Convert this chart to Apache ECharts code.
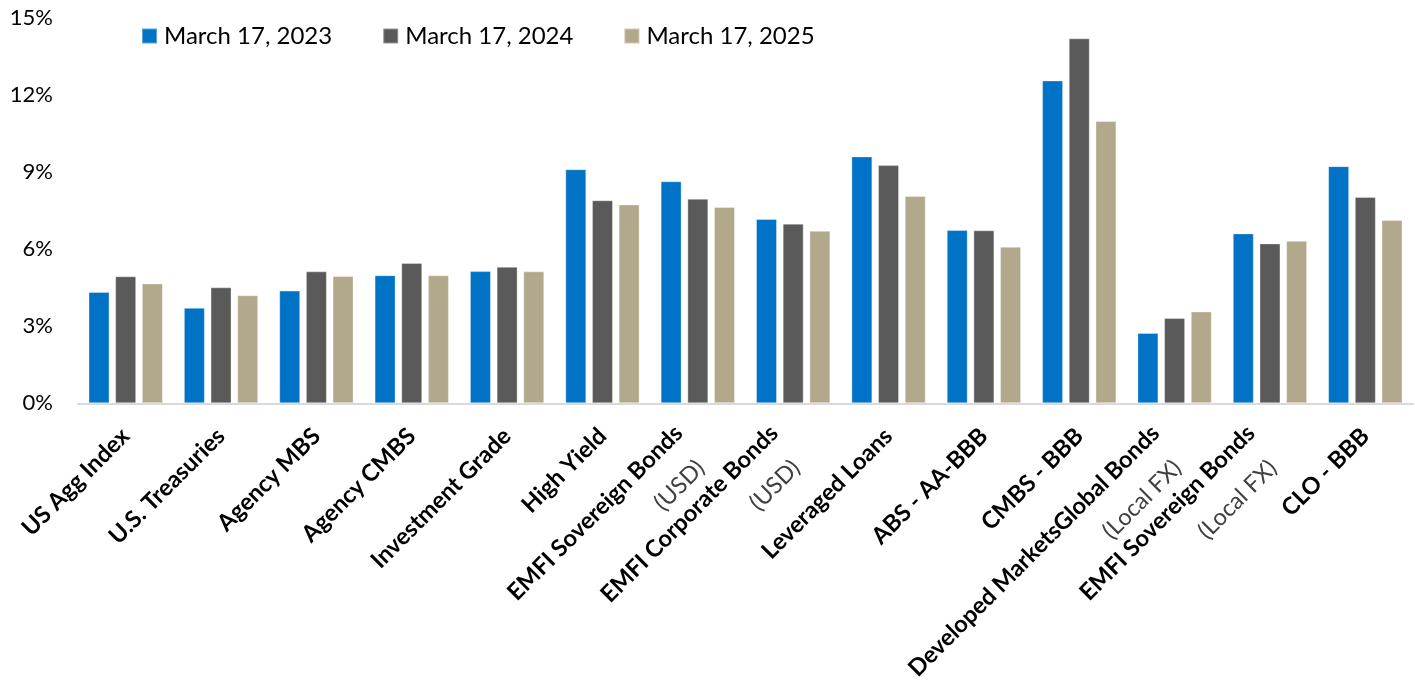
<!DOCTYPE html>
<html>
<head>
<meta charset="utf-8">
<script src="https://cdn.jsdelivr.net/npm/echarts@6/dist/echarts.min.js"></script>
<style>
html,body{margin:0;padding:0;background:#fff;}
#chart{width:1415px;height:689px;}
</style>
</head>
<body>
<div id="chart"></div>
<script>
const categories = [
  'US Agg Index',
  'U.S. Treasuries',
  'Agency MBS',
  'Agency CMBS',
  'Investment Grade',
  'High Yield',
  'EMFI Sovereign Bonds\n(USD)',
  'EMFI Corporate Bonds\n(USD)',
  'Leveraged Loans',
  'ABS - AA-BBB',
  'CMBS - BBB',
  'Developed MarketsGlobal Bonds\n(Local FX)',
  'EMFI Sovereign Bonds\n(Local FX)',
  'CLO - BBB'
];
const seriesNames = ['March 17, 2023', 'March 17, 2024', 'March 17, 2025'];
const values2023 = [4.34, 3.72, 4.39, 4.99, 5.15, 9.12, 8.65, 7.18, 9.62, 6.75, 12.58, 2.74, 6.62, 9.24];
const values2024 = [4.95, 4.52, 5.14, 5.47, 5.32, 7.91, 7.97, 7.00, 9.28, 6.74, 14.22, 3.32, 6.23, 8.04];
const values2025 = [4.67, 4.21, 4.96, 4.99, 5.14, 7.75, 7.65, 6.72, 8.08, 6.10, 11.00, 3.58, 6.33, 7.14];
const yTicks = [0, 3, 6, 9, 12, 15];

const colors = ['#0173C7', '#5A5A5A', '#B2A88B'];
const FONT = 'Lato';
const LABEL_SIZE = 23.5;

const chart = echarts.init(document.getElementById('chart'), null, {renderer: 'canvas'});
const allValues = [values2023, values2024, values2025];

function labelAxis(margin, vAlign, pick) {
  return {
    type: 'category',
    position: 'bottom',
    offset: 0,
    data: categories,
    axisLine: {show: false},
    axisTick: {show: false},
    splitLine: {show: false},
    axisLabel: {
      interval: 0,
      rotate: 45,
      margin: margin,
      verticalAlign: vAlign,
      formatter: pick,
      rich: {
        b: {fontFamily: FONT, fontWeight: 'bold', fontSize: LABEL_SIZE, color: '#000', lineHeight: 28},
        s: {fontFamily: FONT, fontSize: LABEL_SIZE, color: '#404040', lineHeight: 28},
        sp1: {fontSize: LABEL_SIZE, lineHeight: 28, width: 27},
        sp2: {fontSize: LABEL_SIZE, lineHeight: 28, width: 10}
      }
    }
  };
}

const axisMain = labelAxis(29, 'middle', function (v) {
  const p = v.split('\n');
  return p.length === 1 ? '{b|' + p[0] + '}' : '';
});
axisMain.axisLine = {show: true, lineStyle: {color: '#D9D9D9', width: 2}};

const axisFirstLine = labelAxis(7, 'middle', function (v) {
  const p = v.split('\n');
  return p.length === 1 ? '' : '{b|' + p[0] + '}{sp1|\u00a0}';
});

const axisSecondLine = labelAxis(44, 'top', function (v) {
  const p = v.split('\n');
  return p.length === 1 ? '' : '{s|' + p[1] + '}{sp2|\u00a0}';
});

chart.setOption({
  animation: false,
  textStyle: {fontFamily: FONT},
  color: colors,
  grid: {left: 78, right: 2, top: 18.3, bottom: 285.7, containLabel: false},
  legend: {
    left: 141,
    top: 24,
    padding: 0,
    itemWidth: 15,
    itemHeight: 15,
    itemGap: 50,
    icon: 'rect',
    textStyle: {fontFamily: FONT, fontSize: 24, color: '#000', padding: [0, 0, 0, 2]},
    data: seriesNames
  },
  xAxis: [axisMain, axisFirstLine, axisSecondLine],
  yAxis: {
    type: 'value',
    min: yTicks[0],
    max: yTicks[yTicks.length - 1],
    interval: yTicks[1] - yTicks[0],
    axisLine: {show: false},
    axisTick: {show: false},
    splitLine: {show: false},
    axisLabel: {
      margin: 25,
      fontFamily: FONT,
      fontSize: 22,
      color: '#000',
      formatter: function (v) { return v + '%'; }
    }
  },
  series: seriesNames.map(function (name, i) {
    return {
      name: name,
      type: 'bar',
      xAxisIndex: 0,
      data: allValues[i],
      barWidth: 21,
      barGap: '27%',
      itemStyle: {color: colors[i], borderColor: 'rgba(255,255,255,0.35)', borderWidth: 1}
    };
  })
});
</script>
</body>
</html>
